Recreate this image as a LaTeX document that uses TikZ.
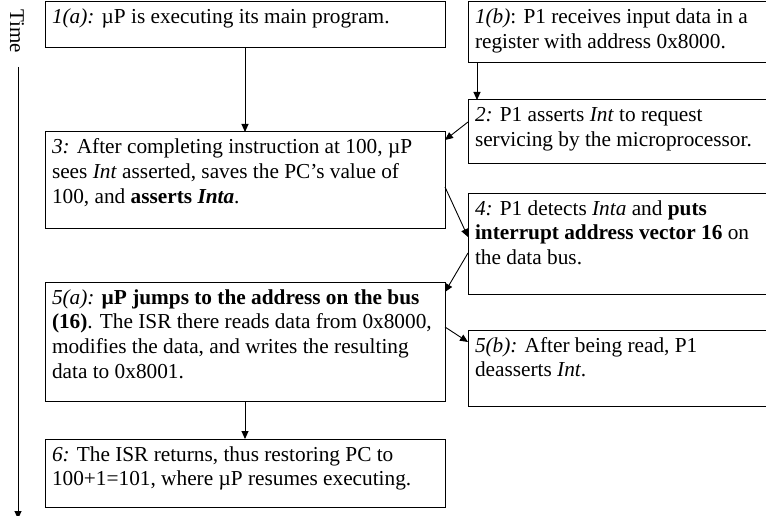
\documentclass[tikz,border=0pt]{standalone}
\usepackage{fontspec}
\setmainfont{Liberation Serif}
\usetikzlibrary{arrows.meta,calc}
\newcommand\bxt[3]{\begin{minipage}[t][#2pt][t]{#1pt}\begin{tabular}[t]{@{}l@{}}\rule{0pt}{22pt}#3\end{tabular}\end{minipage}}
\newcommand\lbl[1]{{\itshape #1}}
\begin{document}
\begin{tikzpicture}[x=1pt,y=-1pt,
  box/.style={draw=black, line width=1pt, anchor=north west, inner xsep=7pt, inner ysep=0pt, outer sep=0pt},
  arr/.style={line width=0.9pt, -{Triangle[length=8pt,width=7pt]}},
  font=\fontsize{21.3}{24.8}\selectfont]
\useasboundingbox (0,0) rectangle (766,516);

\node[box] (n1a) at (45,2) {\bxt{386}{46}{\lbl{1(a):} µP is executing its main program.}};
\node[box] (n1b) at (468,2) {\bxt{296}{61}{\lbl{1(b)}: P1 receives input data in a\\register with address 0x8000.}};
\node[box] (n2) at (468,100) {\bxt{296}{64}{\lbl{2:} P1 asserts \textit{Int} to request\\servicing by the microprocessor.}};
\node[box] (n3) at (45,132) {\bxt{386}{96}{\lbl{3:} After completing instruction at 100, µP\\sees \textit{Int} asserted, saves the PC’s value of\\100, and \textbf{asserts \textit{Inta}}.}};
\node[box] (n4) at (468,193) {\bxt{296}{101}{\lbl{4:} P1 detects \textit{Inta} and \textbf{puts}\\\textbf{interrupt address vector 16} on\\the data bus.}};
\node[box] (n5a) at (45,282) {\bxt{386}{119}{\lbl{5(a):} \textbf{µP jumps to the address on the bus}\\\textbf{(16)}. The ISR there reads data from 0x8000,\\modifies the data, and writes the resulting\\data to 0x8001.}};
\node[box] (n5b) at (468,330) {\bxt{296}{76}{\lbl{5(b):} After being read, P1\\deasserts \textit{Int}.}};
\node[box] (n6) at (45,439) {\bxt{386}{68}{\lbl{6:} The ISR returns, thus restoring PC to\\100+1=101, where µP resumes executing.}};

\node[rotate=-90, inner sep=0pt, font=\fontsize{21}{24}\selectfont] (time) at (17,31) {Time};
\coordinate (t0) at (18,67);
\coordinate (t1) at (18,519);
\draw[arr] (t0) -- (t1);

\draw[arr] (n1a.south) -- (n1a.south |- n3.north);
\coordinate (b1) at ([xshift=9pt]n1b.south west);
\draw[arr] (b1) -- (b1 |- n2.north);
\draw[arr] ([yshift=-22pt]n2.north west) -- ([yshift=-8pt]n3.north east);
\draw[arr] ([yshift=-55pt]n3.north east) -- ([yshift=-44pt]n4.north west);
\draw[arr] ([yshift=-60pt]n4.north west) -- ([yshift=-10pt]n5a.north east);
\draw[arr] ([yshift=-45pt]n5a.north east) -- ([yshift=-12pt]n5b.north west);
\draw[arr] (n5a.south) -- (n5a.south |- n6.north);
\end{tikzpicture}
\end{document}
